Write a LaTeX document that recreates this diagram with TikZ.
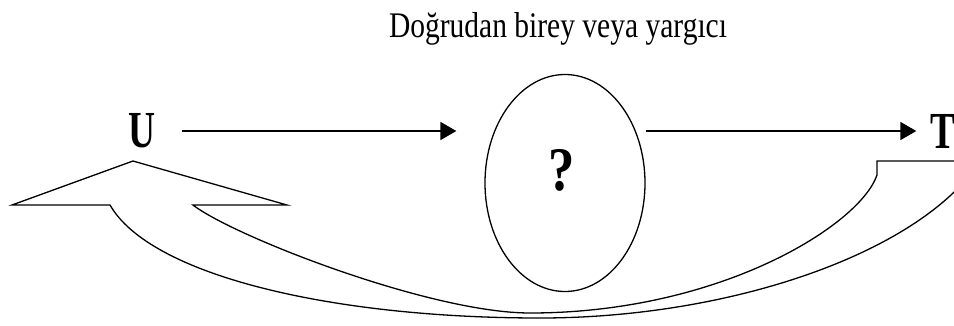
\documentclass[tikz,border=0pt]{standalone}
\usepackage{fontspec}
\setmainfont{Liberation Serif}
\usetikzlibrary{shapes.geometric, arrows.meta, positioning}

\begin{document}
\begin{tikzpicture}[x=1pt, y=-1pt,
            lbl/.style={inner sep=0pt, font=\fontsize{52}{52}\selectfont\bfseries},
            oval/.style={draw=black, ellipse, line width=1.3pt, minimum width=160pt, minimum height=217pt, inner sep=0pt},
            arr/.style={-{Triangle[length=16pt, width=18pt]}, line width=1.8pt},
            bent/.style={draw=black, line width=1.3pt, line join=miter}
        ]
            \path[use as bounding box, fill=white] (0,0) rectangle (954,325);

            \node[inner sep=0pt, font=\fontsize{36}{36}\selectfont] (head) at (558,29) {\scalebox{0.82}[1]{Doğrudan birey veya yargıcı}};
            \node[lbl] (u) at (142,131) {\scalebox{0.72}[1]{U}};
            \node[lbl] (t) at (943,131) {\scalebox{0.72}[1]{T}};
            \node[oval] (q) at (565,183) {};
            \node[lbl, font=\fontsize{62}{62}\selectfont\bfseries] (ask) at (562,170) {\scalebox{0.85}[1]{?}};

            \draw[arr, shorten <=26pt, shorten >=28pt] (u) -- (u -| q.west);
            \draw[arr, shorten >=14pt] (q.east |- t) -- (t.west);

            \begin{scope}
                \clip (0,0) rectangle (954,325);
                \draw[bent] (960,161) -- (877,161) -- (877,175)
                    .. controls (860,225) and (720,313) .. (530,313)
                    .. controls (430,313) and (233,236) .. (193,205)
                    -- (287,205) -- (133,161) -- (12,205) -- (110,205)
                    .. controls (150,275) and (330,318) .. (540,318)
                    .. controls (720,318) and (900,260) .. (970,175);
            \end{scope}
        \end{tikzpicture}
\end{document}
